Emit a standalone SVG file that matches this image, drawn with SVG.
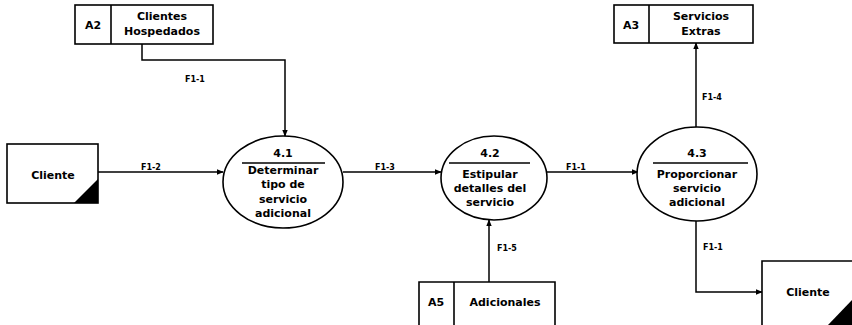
<svg xmlns="http://www.w3.org/2000/svg" width="852" height="325" viewBox="0 0 852 325">
  <style>
    .box { fill: #fff; stroke: #000; stroke-width: 1.6; }
    .proc { fill: #fff; stroke: #000; stroke-width: 1.6; }
    .flow { fill: none; stroke: #000; stroke-width: 1.5; }
    .t { font-family: "DejaVu Sans", "Liberation Sans", sans-serif; font-size: 11px; font-weight: bold; fill: #000; text-anchor: middle; }
    .lbl { font-family: "DejaVu Sans", "Liberation Sans", sans-serif; font-size: 8px; font-weight: bold; fill: #000; }
  </style>
  <defs>
    <marker id="arrow" viewBox="0 0 10 10" refX="9" refY="5" markerWidth="7" markerHeight="7" orient="auto" markerUnits="userSpaceOnUse">
      <path d="M0,1 L10,5 L0,9 Z" fill="#000"/>
    </marker>
  </defs>
  <rect width="852" height="325" fill="#fff"/>

  <g id="connectors">
    <polyline class="flow" points="142,44 142,60 285,60 285,136" marker-end="url(#arrow)"/>
    <text class="lbl" x="185" y="82">F1-1</text>
    <line class="flow" x1="98" y1="172" x2="223" y2="172" marker-end="url(#arrow)"/>
    <text class="lbl" x="141" y="170">F1-2</text>
    <line class="flow" x1="343" y1="172" x2="441" y2="172" marker-end="url(#arrow)"/>
    <text class="lbl" x="375" y="170">F1-3</text>
    <line class="flow" x1="547" y1="172" x2="638" y2="172" marker-end="url(#arrow)"/>
    <text class="lbl" x="566" y="170">F1-1</text>
    <line class="flow" x1="489" y1="282" x2="489" y2="220" marker-end="url(#arrow)"/>
    <text class="lbl" x="497" y="251">F1-5</text>
    <line class="flow" x1="696" y1="127" x2="696" y2="43" marker-end="url(#arrow)"/>
    <text class="lbl" x="702" y="100">F1-4</text>
    <polyline class="flow" points="696,220 696,292 762,292" marker-end="url(#arrow)"/>
    <text class="lbl" x="703" y="250">F1-1</text>
  </g>

  <g id="A2">
    <rect class="box" x="75" y="5" width="138" height="39"/>
    <line class="box" x1="111" y1="5" x2="111" y2="44"/>
    <text class="t" x="93" y="29">A2</text>
    <text class="t" x="162" y="20">Clientes</text>
    <text class="t" x="162" y="35">Hospedados</text>
  </g>

  <g id="A3">
    <rect class="box" x="614" y="5" width="139" height="38"/>
    <line class="box" x1="649" y1="5" x2="649" y2="43"/>
    <text class="t" x="631" y="29">A3</text>
    <text class="t" x="701" y="20">Servicios</text>
    <text class="t" x="701" y="35">Extras</text>
  </g>

  <g id="A5">
    <path class="box" d="M419,325 L419,282 L555,282 L555,325"/>
    <line class="box" x1="454" y1="282" x2="454" y2="325"/>
    <text class="t" x="436" y="306">A5</text>
    <text class="t" x="505" y="306">Adicionales</text>
  </g>

  <g id="cliente-origen">
    <rect class="box" x="7" y="144" width="91" height="59"/>
    <polygon points="74,203 98,203 98,179" fill="#000"/>
    <text class="t" x="53" y="179">Cliente</text>
  </g>

  <g id="cliente-destino">
    <path class="box" d="M762,325 L762,261 L852,261"/>
    <polygon points="828,325 852,325 852,300" fill="#000"/>
    <text class="t" x="808" y="296">Cliente</text>
  </g>

  <g id="p4-1">
    <ellipse class="proc" cx="283" cy="182" rx="60" ry="46"/>
    <text class="t" x="283" y="157">4.1</text>
    <line class="flow" x1="242" y1="163" x2="325" y2="163"/>
    <text class="t" x="283" y="174">Determinar</text>
    <text class="t" x="283" y="188">tipo de</text>
    <text class="t" x="283" y="203">servicio</text>
    <text class="t" x="283" y="217">adicional</text>
  </g>

  <g id="p4-2">
    <ellipse class="proc" cx="494" cy="178" rx="53" ry="42"/>
    <text class="t" x="490" y="157">4.2</text>
    <line class="flow" x1="449" y1="163" x2="530" y2="163"/>
    <text class="t" x="490" y="178">Estipular</text>
    <text class="t" x="490" y="192">detalles del</text>
    <text class="t" x="490" y="206">servicio</text>
  </g>

  <g id="p4-3">
    <ellipse class="proc" cx="697" cy="174" rx="60" ry="47"/>
    <text class="t" x="697" y="157">4.3</text>
    <line class="flow" x1="653" y1="163" x2="748" y2="163"/>
    <text class="t" x="697" y="178">Proporcionar</text>
    <text class="t" x="697" y="192">servicio</text>
    <text class="t" x="697" y="206">adicional</text>
  </g>
</svg>
